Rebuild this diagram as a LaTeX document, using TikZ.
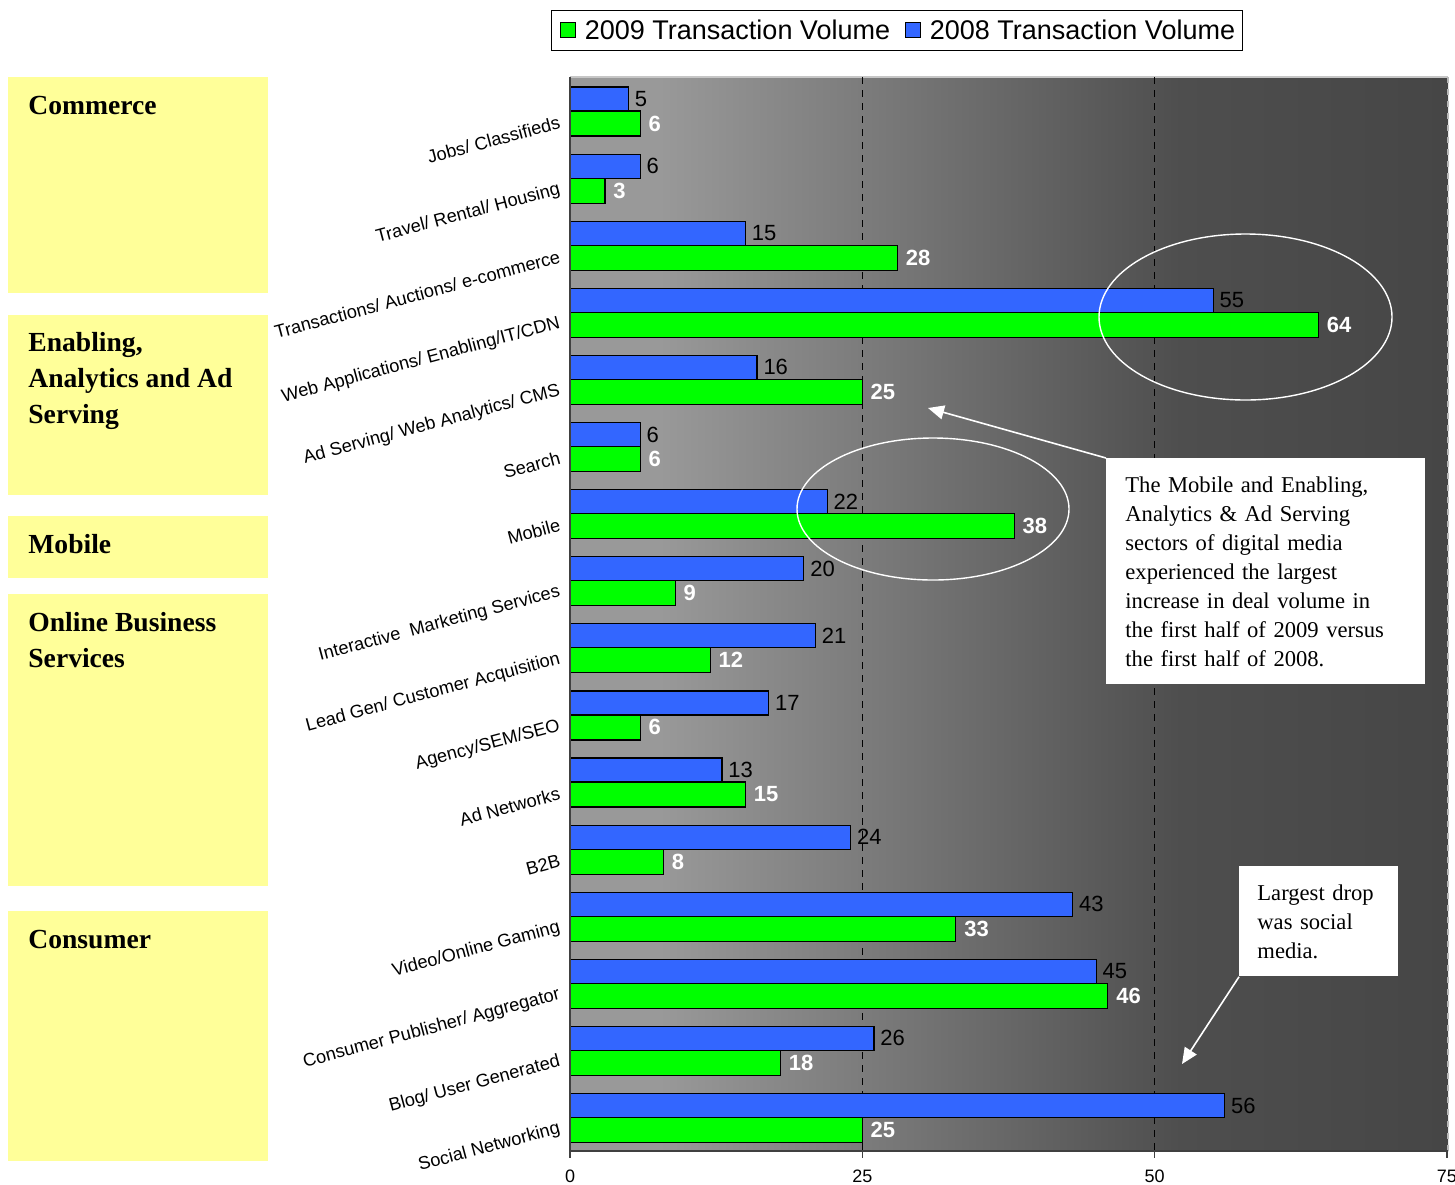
\documentclass[tikz,border=0pt]{standalone}
\usepackage{fontspec}
\setmainfont{Liberation Serif}
\setsansfont{Liberation Sans}
\usetikzlibrary{positioning,arrows.meta}
\definecolor{bar08}{RGB}{51,102,255}
\definecolor{bar09}{RGB}{0,255,0}
\definecolor{secyellow}{RGB}{255,255,153}
\definecolor{bgl}{RGB}{153,153,153}
\definecolor{bgd}{RGB}{78,78,78}
\definecolor{bgdd}{RGB}{70,70,70}
\tikzset{
  secbox/.style={fill=secyellow, inner sep=0pt, anchor=north west, minimum width=130pt},
  sectext/.style={anchor=north west, inner sep=0pt, align=left, font=\bfseries\fontsize{13.8}{18}\selectfont},
  cat/.style={anchor=east, rotate=15, inner sep=0pt, font=\sffamily\fontsize{9.1}{11}\selectfont},
  v08/.style={anchor=west, inner sep=0pt, font=\sffamily\fontsize{11}{12}\selectfont},
  v09/.style={anchor=west, inner sep=0pt, text=white, font=\sffamily\bfseries\fontsize{11}{12}\selectfont},
  barline/.style={draw=black, line width=0.6pt},
  note/.style={fill=white, inner xsep=9.5pt, align=left, anchor=north west, font=\fontsize{11.3}{14.5}\selectfont},
  callout/.style={white, line width=0.8pt, -{Triangle[length=8pt,width=7pt]}},
  ring/.style={white, line width=0.7pt},
  gridline/.style={black, dash pattern=on 3.5pt off 3pt, line width=0.4pt},
  key/.style={draw=black, line width=0.5pt, minimum size=7.5pt, inner sep=0pt},
  keytext/.style={inner sep=0pt, font=\sffamily\fontsize{13.5}{15}\selectfont},
  tick/.style={inner sep=0pt, font=\sffamily\fontsize{9}{10}\selectfont}
}
\begin{document}
\begin{tikzpicture}[x=0.5pt,y=-0.5pt]
  \useasboundingbox (0,0) rectangle (1455,1184);
  % sectors
  \node[secbox, minimum height=108pt] (sec1) at (8,77) {};
  \node[secbox, minimum height=90pt] (sec2) at (8,315) {};
  \node[secbox, minimum height=31pt] (sec3) at (8,516) {};
  \node[secbox, minimum height=146pt] (sec4) at (8,594) {};
  \node[secbox, minimum height=125pt] (sec5) at (8,911) {};
  \node[sectext] (s1) at (28,96) {Commerce};
  \node[sectext] (s2) at (28,332) {Enabling,\\Analytics and Ad\\Serving};
  \node[sectext] (s3) at (28,534) {Mobile};
  \node[sectext] (s4) at (28,612) {Online Business\\Services};
  \node[sectext] (s5) at (28,930) {Consumer};
  % plot area
  \fill[bgl] (570,77) rectangle (660,1151);
  \shade[left color=bgl, right color=bgd] (659,77) rectangle (1181,1151);
  \shade[left color=bgd, right color=bgdd] (1180,77) rectangle (1448,1151);
  \draw[gray!45, line width=0.6pt] (570,77) -- (1448,77);
  \draw[gray!55, dashed, line width=0.6pt] (1448,77) -- (1448,1151);
  \draw[gridline] (862.3,77) -- (862.3,1151);
  \draw[gridline] (1154.7,77) -- (1154.7,1151);
  \foreach \i/\lab/\a/\b in {
      0/{Jobs/ Classifieds}/5/6,
      1/{Travel/ Rental/ Housing}/6/3,
      2/{Transactions/ Auctions/ e-commerce}/15/28,
      3/{Web Applications/ Enabling/IT/CDN}/55/64,
      4/{Ad Serving/ Web Analytics/ CMS}/16/25,
      5/{Search}/6/6,
      6/{Mobile}/22/38,
      7/{Interactive\ \ Marketing Services}/20/9,
      8/{Lead Gen/ Customer Acquisition}/21/12,
      9/{Agency/SEM/SEO}/17/6,
      10/{Ad Networks}/13/15,
      11/{B2B}/24/8,
      12/{Video/Online Gaming}/43/33,
      13/{Consumer Publisher/ Aggregator}/45/46,
      14/{Blog/ User Generated}/26/18,
      15/{Social Networking}/56/25} {
    \pgfmathsetmacro{\y}{111+67.1*\i}
    \draw[barline, fill=bar08] (570,{\y-24}) rectangle ({570+11.693*\a},\y);
    \draw[barline, fill=bar09] (570,\y) rectangle ({570+11.693*\b},{\y+25});
    \node[v08] (n08-\i) at ({576+11.693*\a},{\y-12}) {\a};
    \node[v09] (n09-\i) at ({578+11.693*\b},{\y+12.5}) {\b};
    \node[cat] (c-\i) at (560,{\y+11}) {\lab};
  }
  \draw[black!75, line width=0.6pt] (570,77) -- (570,1151) -- (1448,1151);
  \foreach \t in {0,25,50,75} {
    \draw[black!75, line width=0.6pt] ({570+11.693*\t},1151) -- ({570+11.693*\t},1158);
    \node[tick] (t\t) at ({570+11.693*\t},1176) {\t};
  }
  % legend
  \node[draw, fill=white, line width=0.5pt, minimum width=345.5pt, minimum height=20pt, inner sep=0pt] (legend) at (896.5,30) {};
  \node[key, fill=bar09] (k09) at (567.5,30) {};
  \node[keytext, right=4.5pt of k09] (t09) {2009 Transaction Volume};
  \node[key, fill=bar08, right=7pt of t09] (k08) {};
  \node[keytext, right=4.5pt of k08] (t08) {2008 Transaction Volume};
  % highlights
  \draw[ring] (1245.5,317) ellipse [x radius=146.5, y radius=83];
  \draw[ring] (933,509) ellipse [x radius=136, y radius=71];
  \node[note, minimum width=159.5pt, minimum height=113pt, text width=140.5pt] (noteA) at (1106,458)
    {The Mobile and Enabling,\\Analytics \& Ad Serving\\sectors of digital media\\experienced the largest\\increase in deal volume in\\the first half of 2009 versus\\the first half of 2008.};
  \node[note, inner xsep=9pt, minimum width=79.5pt, minimum height=55pt, text width=61.5pt] (noteB) at (1239,866)
    {Largest drop\\was social\\media.};
  \coordinate (tipA) at (928,408);
  \coordinate (tipB) at (1182,1064);
  \draw[callout] (noteA.north west) -- (tipA);
  \draw[callout] (noteB.south west) -- (tipB);
\end{tikzpicture}
\end{document}
